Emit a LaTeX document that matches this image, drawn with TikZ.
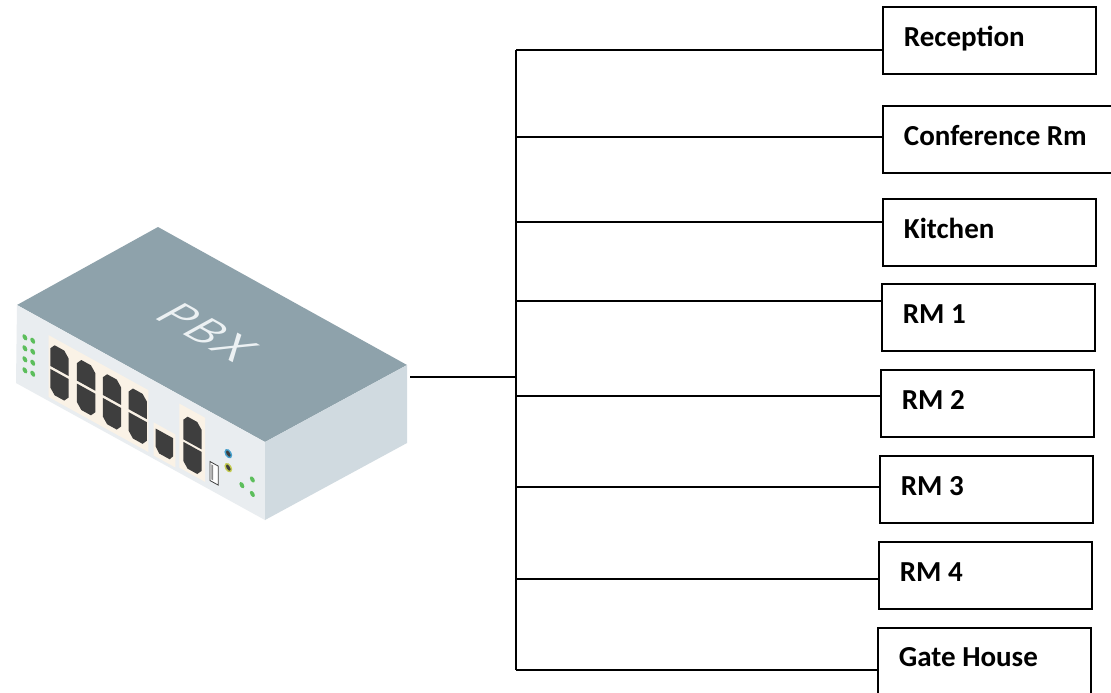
\documentclass[tikz,border=0pt]{standalone}
\usepackage{fontspec}
\setmainfont{Carlito}
\usetikzlibrary{positioning}
\definecolor{pbxTop}{RGB}{142, 162, 171}
\definecolor{pbxFront}{RGB}{233, 237, 240}
\definecolor{pbxSide}{RGB}{208, 218, 224}
\definecolor{pbxPanel}{RGB}{250, 242, 230}
\definecolor{pbxPort}{RGB}{62, 62, 62}
\definecolor{pbxLed}{RGB}{92, 190, 92}
\definecolor{pbxJackA}{RGB}{70, 160, 205}
\definecolor{pbxJackB}{RGB}{196, 204, 80}
\definecolor{pbxText}{RGB}{236, 241, 243}
\tikzset{
    base/.style={
        font=\bfseries\fontsize{29}{34}\selectfont,
        align=flush left
    },
    room/.style={
        base,
        rectangle,
        draw=black,
        line width=1.8pt,
        fill=white,
        anchor=north west,
        minimum height=67pt,
        text width=171pt,
        inner xsep=21pt,
        text height=19pt,
        text depth=7pt
    },
    wire/.style={
        line width=1.8pt,
        color=black
    },
    panel/.style={
        fill=pbxPanel
    },
    port/.style={
        fill=pbxPort
    },
    led/.style={
        fill=pbxLed
    }
}

\begin{document}
\begin{tikzpicture}[x=1pt, y=-1pt]
    \fill[white] (0,0) rectangle (1111,693);
    \useasboundingbox (0,0) rectangle (1111,693);

    % PBX box faces
    \fill[pbxTop] (17,305) -- (158,227) -- (407,365) -- (265,442) -- cycle;
    \fill[pbxFront] (17,305) -- (265,442) -- (265,520) -- (16,383) -- cycle;
    \fill[pbxSide] (265,442) -- (407,365) -- (407,443) -- (265,520) -- cycle;

    % Name on the lid
    \begin{scope}[shift={(208,332)}]
        \node (pbxName) [font=\sffamily\fontsize{48}{50}\selectfont, text=pbxText,
            cm={0.875,-0.485,0.875,0.483,(0,0)}] at (0,0) {P\hspace{2pt}B\hspace{2pt}X};
    \end{scope}

    % Front panel
    \begin{scope}[cm={0.875,-0.483,0,1,(17,305)}]
        \foreach \t in {28,39,50,61} {
            \fill[led] (9,\t) circle[radius=2.8];
            \fill[led] (18,\t-1) circle[radius=2.8];
        }
        \fill[panel] (36,12.7) rectangle (150,74.5);
        \foreach \s in {38,68.5,98,127.5} {
            \fill[port] (\s,42.5) -- (\s,25) -- (\s+5,19.5) -- (\s+16,19.5) -- (\s+21,25) -- (\s+21,42.5) -- cycle;
            \fill[port] (\s,45.5) -- (\s+21,45.5) -- (\s+21,64) -- (\s+16,69.5) -- (\s+5,69.5) -- (\s,64) -- cycle;
        }
        \fill[panel] (156,42) rectangle (181,75);
        \fill[port] (158.5,47) -- (178.5,47) -- (178.5,65) -- (174.5,70) -- (162.5,70) -- (158.5,65) -- cycle;
        \fill[panel] (185.5,9) rectangle (215,73);
        \fill[port] (190,42.5) -- (190,23) -- (195,17.5) -- (206,17.5) -- (211,23) -- (211,42.5) -- cycle;
        \fill[port] (190,45) -- (211,45) -- (211,64) -- (206,69.5) -- (195,69.5) -- (190,64) -- cycle;
        % USB and jacks
        \filldraw[fill=white, draw=pbxPort, line width=0.8pt] (220.5,50) rectangle (230,69);
        \fill[pbxPort!60] (222.2,52) rectangle (224.2,67);
        \filldraw[fill=pbxPort, draw=pbxJackA, line width=1.4pt] (241.5,32) circle[radius=3.6];
        \filldraw[fill=pbxPort, draw=pbxJackB, line width=1.4pt] (241.5,46) circle[radius=3.6];
        \fill[led] (257,56) circle[radius=2.8];
        \fill[led] (269,44.5) circle[radius=2.8];
        \fill[led] (269,59) circle[radius=2.8];
    \end{scope}

    % Rooms
    \node[room] (rec) at (882,6) {Reception};
    \node[room, text width=190pt] (conf) at (882,105) {Conference Rm};
    \node[room] (kit) at (882,198) {Kitchen};
    \node[room] (rmOne) at (881,283) {RM 1};
    \node[room] (rmTwo) at (880,369) {RM 2};
    \node[room] (rmThree) at (879,455) {RM 3};
    \node[room] (rmFour) at (878,541) {RM 4};
    \node[room, minimum height=66pt] (gate) at (877,627) {Gate House};

    % Bus
    \coordinate (pbx) at (410,377);
    \coordinate (busTop) at (516,50);
    \coordinate (busBot) at (516,670);
    \draw[wire] (busTop) -- (busBot);
    \draw[wire] (pbx) -- (pbx -| busTop);
    \foreach \n/\y in {rec/50, conf/137, kit/222, rmOne/301, rmTwo/396, rmThree/487, rmFour/579, gate/670} {
        \coordinate (j-\n) at (516,\y);
        \draw[wire] (j-\n) -- (j-\n -| \n.west);
    }
\end{tikzpicture}
\end{document}
